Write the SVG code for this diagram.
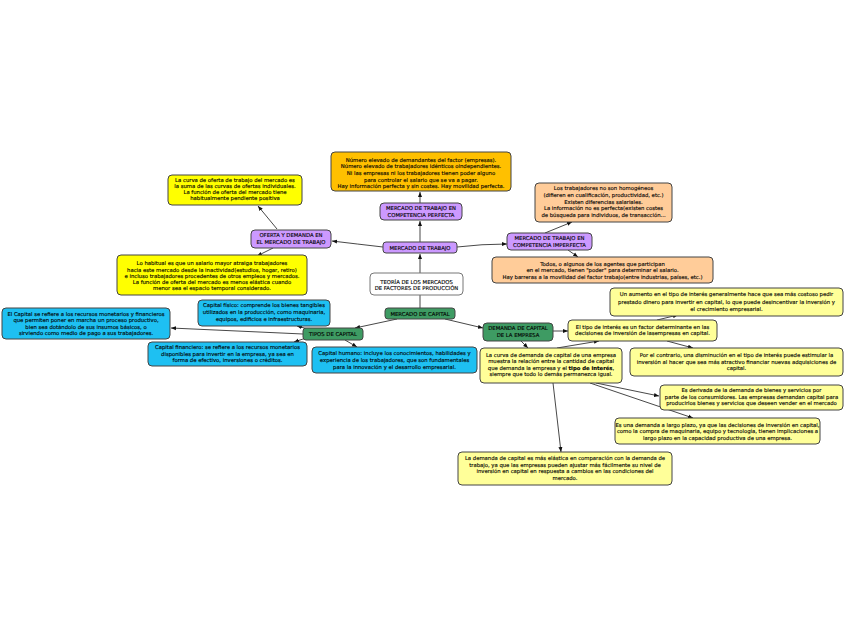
<svg xmlns="http://www.w3.org/2000/svg" width="848" height="638" viewBox="0 0 848 638">
<defs>
<marker id="ah" viewBox="0 0 10 10" markerWidth="5" markerHeight="5" refX="10" refY="5" orient="auto" markerUnits="userSpaceOnUse">
<path d="M0,1 L10,5 L0,9 z" fill="#111"/>
</marker>
<style>
.c{fill:none;stroke:#333;stroke-width:0.9}
.a{marker-end:url(#ah)}
.n rect{stroke:#444;stroke-width:1}
.or{fill:#FFC000}.pu{fill:#CC99FF}.ye{fill:#FFFF00}.pe{fill:#FFCC99}.ly{fill:#FFFF99}.bl{fill:#1EC0F2}.gr{fill:#3E9B63}.n .wh{fill:#FFFFFF;stroke:#777}
text{font-family:"DejaVu Sans",Verdana,sans-serif;font-size:5.3px;text-anchor:middle;fill:#000;stroke:#000;stroke-width:0.12}
</style>
</defs>
<g id="connectors">
<line class="c a" x1="420" y1="273" x2="420" y2="254"/>
<line class="c" x1="420" y1="295" x2="420" y2="308"/>
<line class="c a" x1="420" y1="242" x2="420" y2="221"/>
<line class="c a" x1="420" y1="203" x2="420" y2="192"/>
<path class="c a" d="M383,247 Q357,244 332,241"/>
<path class="c a" d="M457,247 Q482,244 507,244"/>
<line class="c a" x1="277" y1="229" x2="258" y2="206"/>
<line class="c a" x1="273" y1="248" x2="257" y2="256"/>
<line class="c a" x1="545" y1="233" x2="572" y2="222"/>
<line class="c a" x1="568" y1="250" x2="578" y2="257"/>
<line class="c a" x1="397" y1="319" x2="355" y2="328"/>
<line class="c a" x1="445" y1="319" x2="483" y2="328"/>
<line class="c a" x1="303" y1="334" x2="171" y2="328"/>
<line class="c a" x1="312" y1="330" x2="297" y2="326"/>
<line class="c a" x1="306" y1="338" x2="294" y2="342"/>
<line class="c a" x1="345" y1="340" x2="357" y2="347"/>
<line class="c a" x1="553" y1="331" x2="568" y2="331"/>
<line class="c a" x1="521" y1="341" x2="528" y2="348"/>
<line class="c a" x1="557" y1="348" x2="599" y2="341"/>
<line class="c a" x1="657" y1="320" x2="678" y2="315"/>
<line class="c a" x1="667" y1="341" x2="693" y2="348"/>
<line class="c a" x1="596" y1="383" x2="659" y2="396"/>
<line class="c a" x1="590" y1="383" x2="693" y2="418"/>
<line class="c a" x1="553" y1="383" x2="561" y2="452"/>
</g>
<g id="n-top-orange" class="n"><rect class="or" x="331" y="152" width="180" height="39" rx="4"/>
<text x="421" y="161.7">Número elevado de demandantes del factor (empresas).</text>
<text x="421" y="168.4">Número elevado de trabajadores idénticos oindependientes.</text>
<text x="421" y="175">Ni las empresas ni los trabajadores tienen poder alguno</text>
<text x="421" y="181.7">para controlar el salario que se va a pagar.</text>
<text x="421" y="188.3">Hay información perfecta y sin costes. Hay movilidad perfecta.</text></g>
<g id="n-mtcp" class="n"><rect class="pu" x="380" y="203" width="82" height="17" rx="4"/>
<text x="421" y="210">MERCADO DE TRABAJO EN</text>
<text x="421" y="216.7">COMPETENCIA PERFECTA</text></g>
<g id="n-oferta-curva" class="n"><rect class="ye" x="168" y="175" width="134" height="30" rx="4"/>
<text x="235" y="182">La curva de oferta de trabajo del mercado es</text>
<text x="235" y="188">la suma de las curvas de ofertas individuales.</text>
<text x="235" y="194.3">La función de oferta del mercado tiene</text>
<text x="235" y="200.3">habitualmente pendiente positiva</text></g>
<g id="n-oferta-demanda" class="n"><rect class="pu" x="251" y="230" width="80" height="18" rx="4"/>
<text x="291" y="237">OFERTA Y DEMANDA EN</text>
<text x="291" y="243.5">EL MERCADO DE TRABAJO</text></g>
<g id="n-heterog" class="n"><rect class="pe" x="535" y="183" width="137" height="39" rx="4"/>
<text x="603.5" y="190">Los trabajadores no son homogéneos</text>
<text x="603.5" y="196.8">(difieren en cualificación, productividad, etc.)</text>
<text x="603.5" y="203.6">Existen diferencias salariales.</text>
<text x="603.5" y="210.4">La información no es perfecta(existen costes</text>
<text x="603.5" y="217.2">de búsqueda para individuos, de transacción...</text></g>
<g id="n-mtci" class="n"><rect class="pu" x="507" y="233" width="85" height="17" rx="4"/>
<text x="549.5" y="240">MERCADO DE TRABAJO EN</text>
<text x="549.5" y="246.7">COMPETENCIA IMPERFECTA</text></g>
<g id="n-habitual" class="n"><rect class="ye" x="117" y="255" width="190" height="40" rx="4"/>
<text x="212" y="265.3">Lo habitual es que un salario mayor atraiga trabajadores</text>
<text x="212" y="271.5">hacia este mercado desde la inactividad(estudios, hogar, retiro)</text>
<text x="212" y="277.7">e incluso trabajadores procedentes de otros empleos y mercados.</text>
<text x="212" y="283.9">La función de oferta del mercado es menos elástica cuando</text>
<text x="212" y="290.1">menor sea el espacio temporal considerado.</text></g>
<g id="n-mt" class="n"><rect class="pu" x="383" y="242" width="74" height="11" rx="3"/>
<text x="420" y="249.5">MERCADO DE TRABAJO</text></g>
<g id="n-teoria" class="n"><rect class="wh" x="370" y="273" width="93" height="22" rx="4"/>
<text x="416.5" y="283.7">TEORÍA DE LOS MERCADOS</text>
<text x="416.5" y="289.9">DE FACTORES DE PRODUCCIÓN</text></g>
<g id="n-mc" class="n"><rect class="gr" x="385" y="308" width="70" height="11" rx="3"/>
<text x="420" y="315.5">MERCADO DE CAPITAL</text></g>
<g id="n-todos" class="n"><rect class="pe" x="492" y="257" width="221" height="26" rx="4"/>
<text x="602.5" y="266">Todos, o algunos de los agentes que participan</text>
<text x="602.5" y="272.3">en el mercado, tienen "poder" para determinar el salario.</text>
<text x="602.5" y="278.7">Hay barreras a la movilidad del factor trabajo(entre industrias, países, etc.)</text></g>
<g id="n-capital-def" class="n"><rect class="bl" x="2" y="308" width="168" height="31" rx="4"/>
<text x="86" y="315.5">El Capital se refiere a los recursos monetarios y financieros</text>
<text x="86" y="322">que permiten poner en marcha un proceso productivo,</text>
<text x="86" y="328.5">bien sea dotándolo de sus insumos básicos, o</text>
<text x="86" y="335">sirviendo como medio de pago a sus trabajadores.</text></g>
<g id="n-fisico" class="n"><rect class="bl" x="198" y="300" width="132" height="26" rx="4"/>
<text x="264" y="307">Capital físico: comprende los bienes tangibles</text>
<text x="264" y="313.7">utilizados en la producción, como maquinaria,</text>
<text x="264" y="320.5">equipos, edificios e infraestructuras.</text></g>
<g id="n-tipos" class="n"><rect class="gr" x="303" y="328" width="60" height="12" rx="3"/>
<text x="333" y="336">TIPOS DE CAPITAL</text></g>
<g id="n-financiero" class="n"><rect class="bl" x="148" y="342" width="159" height="24" rx="4"/>
<text x="227.5" y="349.3">Capital financiero: se refiere a los recursos monetarios</text>
<text x="227.5" y="355.7">disponibles para invertir en la empresa, ya sea en</text>
<text x="227.5" y="362">forma de efectivo, inversiones o créditos.</text></g>
<g id="n-humano" class="n"><rect class="bl" x="312" y="347" width="165" height="26" rx="4"/>
<text x="394.5" y="355.3">Capital humano: incluye los conocimientos, habilidades y</text>
<text x="394.5" y="362">experiencia de los trabajadores, que son fundamentales</text>
<text x="394.5" y="368.7">para la innovación y el desarrollo empresarial.</text></g>
<g id="n-demanda" class="n"><rect class="gr" x="483" y="323" width="70" height="18" rx="4"/>
<text x="518" y="330.3">DEMANDA DE CAPITAL</text>
<text x="518" y="337">DE LA EMPRESA</text></g>
<g id="n-interes" class="n"><rect class="ly" x="568" y="320" width="149" height="21" rx="4"/>
<text x="642.5" y="328.7">El tipo de interés es un factor determinante en las</text>
<text x="642.5" y="335.3">decisiones de inversión de lasempresas en capital.</text></g>
<g id="n-aumento" class="n"><rect class="ly" x="610" y="288" width="233" height="28" rx="4"/>
<text x="726.5" y="296.3">Un aumento en el tipo de interés generalmente hace que sea más costoso pedir</text>
<text x="726.5" y="303.7">prestado dinero para invertir en capital, lo que puede desincentivar la inversión y</text>
<text x="726.5" y="311">el crecimiento empresarial.</text></g>
<g id="n-contrario" class="n"><rect class="ly" x="630" y="348" width="213" height="28" rx="4"/>
<text x="736.5" y="357">Por el contrario, una disminución en el tipo de interés puede estimular la</text>
<text x="736.5" y="363.7">inversión al hacer que sea más atractivo financiar nuevas adquisiciones de</text>
<text x="736.5" y="370.3">capital.</text></g>
<g id="n-curva-demanda" class="n"><rect class="ly" x="480" y="348" width="142" height="35" rx="4"/>
<text x="551" y="357">La curva de demanda de capital de una empresa</text>
<text x="551" y="363.3">muestra la relación entre la cantidad de capital</text>
<text x="551" y="369.7">que demanda la empresa y el <tspan font-weight="bold">tipo de interés</tspan>,</text>
<text x="551" y="376.3">siempre que todo lo demás permanezca igual.</text></g>
<g id="n-derivada" class="n"><rect class="ly" x="660" y="385" width="183" height="25" rx="4"/>
<text x="751.5" y="392">Es derivada de la demanda de bienes y servicios por</text>
<text x="751.5" y="398.7">parte de los consumidores. Las empresas demandan capital para</text>
<text x="751.5" y="405.3">producirlos bienes y servicios que deseen vender en el mercado</text></g>
<g id="n-largo" class="n"><rect class="ly" x="615" y="418" width="205" height="26" rx="4"/>
<text x="717.5" y="427">Es una demanda a largo plazo, ya que las decisiones de inversión en capital,</text>
<text x="717.5" y="433.2">como la compra de maquinaria, equipo y tecnología, tienen implicaciones a</text>
<text x="717.5" y="439.5">largo plazo en la capacidad productiva de una empresa.</text></g>
<g id="n-elastica" class="n"><rect class="ly" x="458" y="452" width="214" height="33" rx="4"/>
<text x="565" y="460.3">La demanda de capital es más elástica en comparación con la demanda de</text>
<text x="565" y="466.6">trabajo, ya que las empresas pueden ajustar más fácilmente su nivel de</text>
<text x="565" y="473">inversión en capital en respuesta a cambios en las condiciones del</text>
<text x="565" y="479.5">mercado.</text></g>
</svg>
